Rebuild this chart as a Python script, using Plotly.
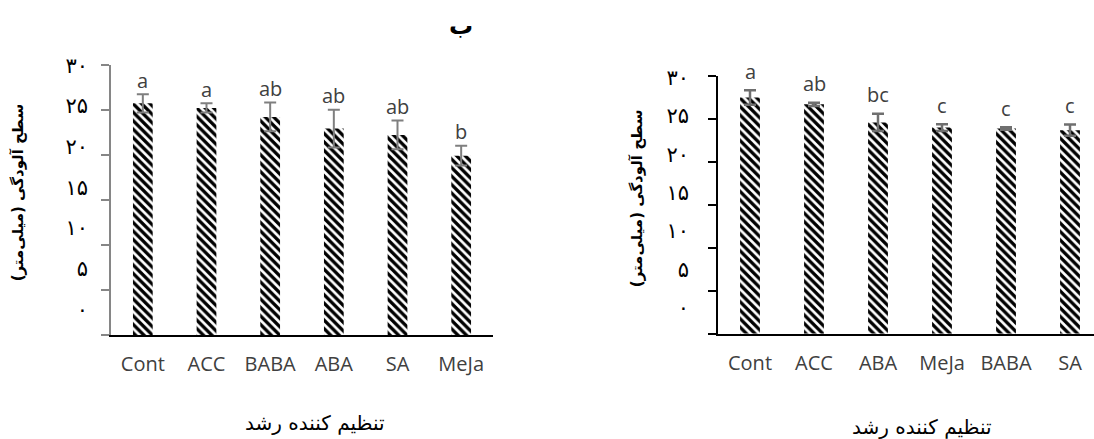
import plotly.graph_objects as go

# ---- data ----
cats_left = ["Cont", "ACC", "BABA", "ABA", "SA", "MeJa"]
vals_left = [25.7, 25.2, 24.2, 22.9, 22.2, 19.9]
errs_left = [1.0, 0.5, 1.6, 2.1, 1.6, 1.1]
letters_left = ["a", "a", "ab", "ab", "ab", "b"]

cats_right = ["Cont", "ACC", "ABA", "MeJa", "BABA", "SA"]
vals_right = [27.5, 26.7, 24.6, 24.0, 23.9, 23.7]
errs_right = [0.85, 0.2, 1.0, 0.4, 0.15, 0.65]
letters_right = ["a", "ab", "bc", "c", "c", "c"]

tick_vals = [0, 5, 10, 15, 20, 25, 30]
tick_text = ["۰", "۵", "۱۰", "۱۵", "۲۰", "۲۵", "۳۰"]

y_title = "سطح آلودگی (میلی‌متر)"
x_title = "تنظیم کننده رشد"
panel_title = "ب"

W, H = 1094, 439
LAT = "Open Sans"
FA = "DejaVu Sans"
GRAY_TXT = "#404040"


def px_x(p):
    return p / W


def px_y(p):
    return 1 - p / H


hatch = dict(shape="\\", fgcolor="black", bgcolor="white", fgopacity=1,
             size=6, solidity=0.55)

fig = go.Figure()

fig.add_trace(go.Bar(
    x=cats_left, y=vals_left, xaxis="x", yaxis="y",
    marker=dict(color="white", line=dict(width=0), pattern=hatch),
    error_y=dict(type="data", array=errs_left, color="#7f7f7f",
                 thickness=2, width=6),
    showlegend=False,
))
fig.add_trace(go.Bar(
    x=cats_right, y=vals_right, xaxis="x2", yaxis="y2",
    marker=dict(color="white", line=dict(width=0), pattern=hatch),
    error_y=dict(type="data", array=errs_right, color="#6f6f6f",
                 thickness=2.5, width=6),
    showlegend=False,
))
# empty traces so the label-only overlay axes are drawn
fig.add_trace(go.Scatter(x=[], y=[], xaxis="x", yaxis="y3", showlegend=False))
fig.add_trace(go.Scatter(x=[], y=[], xaxis="x2", yaxis="y4", showlegend=False))

annotations = []
for c, v, e, t in zip(cats_left, vals_left, errs_left, letters_left):
    annotations.append(dict(x=c, y=v + e, xref="x", yref="y", text=t,
                            showarrow=False, xanchor="center", yanchor="middle", yshift=14,
                            font=dict(family=LAT, size=20, color=GRAY_TXT)))
for c, v, e, t in zip(cats_right, vals_right, errs_right, letters_right):
    annotations.append(dict(x=c, y=v + e, xref="x2", yref="y2", text=t,
                            showarrow=False, xanchor="center", yanchor="middle", yshift=19,
                            font=dict(family=LAT, size=20, color=GRAY_TXT)))

common_ann = dict(xref="paper", yref="paper", showarrow=False,
                  xanchor="center", yanchor="middle")
annotations += [
    dict(x=px_x(18), y=px_y(186), text="<b>" + y_title + "</b>", textangle=-90,
         font=dict(family=FA, size=15, color="black"), **common_ann),
    dict(x=px_x(637), y=px_y(192), text="<b>" + y_title + "</b>", textangle=-90,
         font=dict(family=FA, size=15, color="black"), **common_ann),
    dict(x=px_x(315), y=px_y(423), text=x_title,
         font=dict(family=FA, size=20, color="black"), **common_ann),
    dict(x=px_x(922), y=px_y(427), text=x_title,
         font=dict(family=FA, size=20, color="black"), **common_ann),
    dict(x=px_x(461), y=px_y(15), text="<b>" + panel_title + "</b>",
         font=dict(family=FA, size=24, color="black"), **common_ann),
]

xaxis_common = dict(showline=True, linecolor="black", linewidth=2, ticks="",
                    showgrid=False, zeroline=False,
                    tickfont=dict(family=LAT, size=20, color=GRAY_TXT),
                    ticklabelstandoff=10)

fig.update_layout(
    width=W, height=H,
    margin=dict(l=0, r=0, t=0, b=0),
    paper_bgcolor="white", plot_bgcolor="white",
    bargap=0.69,
    xaxis=dict(domain=[px_x(111), px_x(493)], anchor="y",
               range=[-0.5, 5.5], **xaxis_common),
    xaxis2=dict(domain=[px_x(718), 1.0], anchor="y2",
                range=[-0.5, -0.5 + (W - 718) / 64.0], **xaxis_common),
    yaxis=dict(domain=[px_y(332.3), px_y(55)], anchor="x", range=[0, 30],
               tickvals=tick_vals, showticklabels=False, ticks="outside",
               ticklen=8, tickcolor="#868686", tickwidth=1.5,
               showline=True, linecolor="#868686", linewidth=1.5,
               showgrid=False, zeroline=False),
    yaxis2=dict(domain=[px_y(331), px_y(66.7)], anchor="x2", range=[0, 30],
                tickvals=tick_vals, showticklabels=False, ticks="outside",
                ticklen=8, tickcolor="black", tickwidth=1.5,
                showline=True, linecolor="black", linewidth=1.5,
                showgrid=False, zeroline=False),
    yaxis3=dict(overlaying="y", anchor="x", side="left", range=[-3.17, 30.08],
                tickvals=tick_vals, ticktext=tick_text, ticks="",
                showline=False, showgrid=False, zeroline=False,
                ticklabelstandoff=22,
                tickfont=dict(family=FA, size=21, color="black")),
    yaxis4=dict(overlaying="y2", anchor="x2", side="left", range=[-3.39, 30.19],
                tickvals=tick_vals, ticktext=tick_text, ticks="",
                showline=False, showgrid=False, zeroline=False,
                ticklabelstandoff=28,
                tickfont=dict(family=FA, size=21, color="black")),
    annotations=annotations,
)

fig.write_html("out.html", config={"displayModeBar": False},
               post_script="document.body.style.margin='0';document.body.style.overflow='hidden';")
